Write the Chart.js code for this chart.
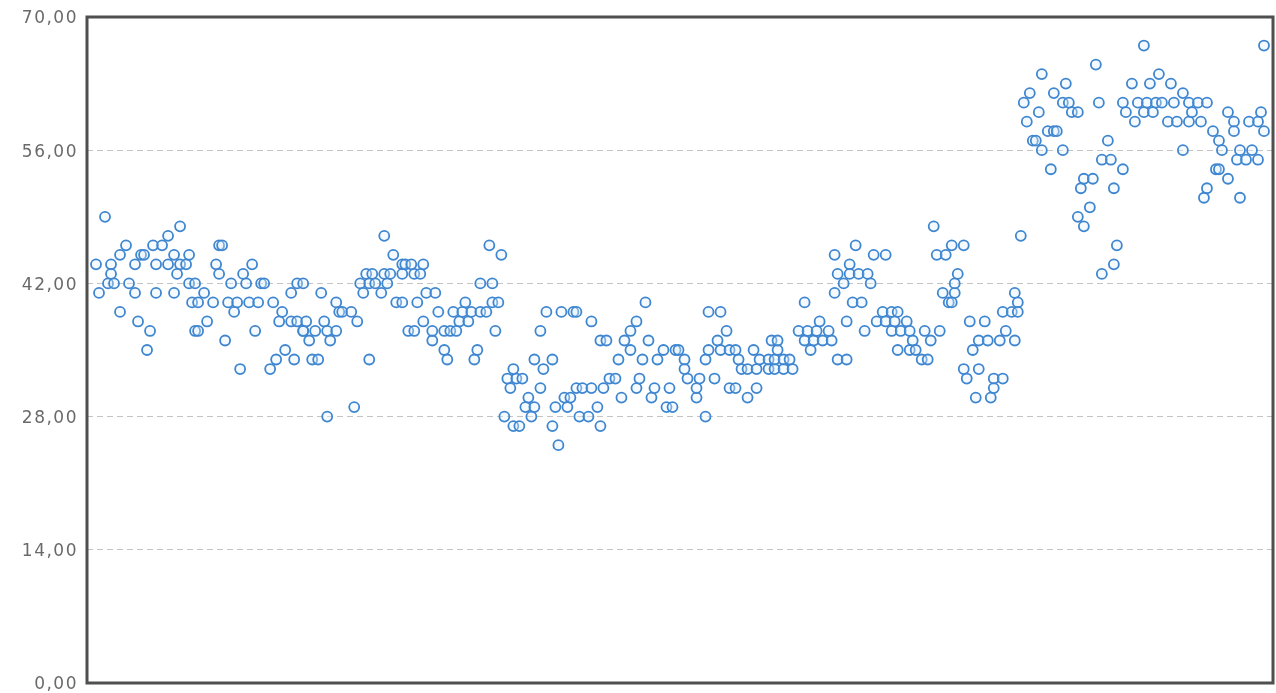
<!DOCTYPE html>
<html>
<head>
<meta charset="utf-8">
<script src="https://cdn.jsdelivr.net/npm/chart.js@4/dist/chart.umd.min.js"></script>
<style>
  html, body { margin: 0; padding: 0; background: #ffffff; overflow: hidden; }
  #wrap { width: 1276px; height: 693px; position: relative; }
  canvas { display: block; }
</style>
</head>
<body>
<div id="wrap"><canvas id="chart" width="1276" height="693"></canvas></div>
<script>
// ---- data ----
const sampleIndex = [
  3,4,6,7,8,8,9,11,11,13,14,16,16,17,18,19,20,21,22,23,23,25,27,27,29,29,30,31,31,33,34,34,35,36,
  36,37,37,39,40,42,43,44,44,45,46,47,48,49,50,51,52,53,54,55,56,57,58,59,61,62,63,64,65,66,68,68,69,70,70,72,
  72,72,73,74,75,76,77,78,79,80,80,81,83,83,84,85,88,89,90,91,92,93,94,94,95,96,98,99,99,100,101,102,103,105,105,105,106,107,
  108,109,109,110,111,112,112,113,115,115,116,117,119,119,120,121,122,123,124,125,126,127,128,129,130,131,131,133,134,135,135,136,137,138,139,140,141,142,142,143,
  144,145,146,147,148,149,149,151,151,152,153,155,155,156,157,158,159,160,161,162,163,163,164,165,167,168,168,170,171,171,172,173,174,176,177,178,179,
  181,181,183,183,184,185,186,187,188,189,190,192,193,194,195,196,197,199,199,200,203,203,204,206,206,207,207,209,210,211,211,213,214,214,
  216,216,217,218,220,220,222,223,223,224,227,227,228,229,229,230,230,232,232,234,235,237,239,239,240,241,242,243,244,245,247,248,249,249,250,250,
  252,253,253,254,254,255,256,257,258,259,260,261,262,263,265,266,266,268,268,269,270,270,271,273,274,274,275,276,278,279,280,281,282,283,284,285,286,287,
  288,288,289,289,290,292,292,293,294,295,296,297,297,299,300,301,302,302,304,305,305,306,308,309,309,310,310,
  311,312,313,314,315,316,317,318,318,320,321,322,322,323,325,325,326,327,328,330,330,331,332,332,334,335,336,337,338,338,340,341,342,342,343,345,345,346,
  348,349,350,352,352,353,354,355,356,357,358,360,361,362,363,365,365,367,367,368,370,371,372,373,373,375,376,377,377,378,380,380,382,382,383,384,384,386,387,388,390,390,391,392,392
];
const measuredValue = [
  44,41,49,42,44,43,42,39,45,46,42,44,41,38,45,45,35,37,46,44,41,46,47,44,45,41,43,44,48,44,45,42,40,37,
  42,40,37,41,38,40,44,46,43,46,36,40,42,39,40,33,43,42,40,44,37,40,42,42,33,40,34,38,39,35,38,41,34,42,38,37,
  42,37,38,36,34,37,34,41,38,37,28,36,40,37,39,39,39,29,38,42,41,43,42,34,43,42,41,43,47,42,43,45,40,44,43,40,44,37,
  44,43,37,40,43,38,44,41,36,37,41,39,37,35,34,37,39,37,38,39,40,38,39,34,35,39,42,39,46,40,42,37,40,45,28,32,31,33,27,32,
  27,32,29,30,28,34,29,31,37,33,39,27,34,29,25,39,30,29,30,39,31,39,28,31,28,31,38,29,27,36,31,36,32,32,34,30,36,
  35,37,38,31,32,34,40,36,30,31,34,35,29,31,29,35,35,34,33,32,30,31,32,28,34,39,35,32,36,39,35,37,35,31,
  35,31,34,33,33,30,35,31,33,34,34,33,36,34,33,35,36,34,33,34,33,37,36,40,37,35,36,37,38,36,37,36,45,41,43,34,
  42,34,38,44,43,40,46,43,40,37,43,42,45,38,39,45,38,37,39,38,35,39,37,38,35,37,36,35,34,37,34,36,48,45,37,41,45,40,
  40,46,41,42,43,46,33,32,38,35,30,33,36,38,36,30,32,31,36,32,39,37,39,36,41,40,39,
  47,61,59,62,57,57,60,64,56,58,54,58,62,58,56,61,63,61,60,49,60,52,48,53,50,53,65,61,43,55,57,55,44,52,46,54,61,60,
  63,59,61,67,60,61,63,60,61,64,61,59,63,61,59,62,56,61,59,60,61,59,51,61,52,58,54,54,57,56,53,60,59,58,55,56,51,55,59,56,55,59,60,58,67
];
const yTickValues = [0, 14, 28, 42, 56, 70];
const indexRange = [0, 395];

// ---- build points from the arrays ----
const points = sampleIndex.map((x, i) => ({ x: x, y: measuredValue[i] }));

const framePlugin = {
  id: 'frame',
  beforeDraw(chart) {
    chart.ctx.letterSpacing = '1.5px';
  },
  beforeDatasetsDraw(chart) {
    const a = chart.chartArea, ctx = chart.ctx;
    ctx.save();
    ctx.strokeStyle = '#4f4f4f';
    ctx.lineWidth = 3;
    ctx.strokeRect(a.left, a.top, a.right - a.left, a.bottom - a.top);
    ctx.restore();
  }
};

new Chart(document.getElementById('chart'), {
  type: 'scatter',
  data: {
    datasets: [{
      data: points,
      pointRadius: 5,
      pointHoverRadius: 5,
      pointBorderWidth: 1.8,
      borderColor: '#3f86d0',
      backgroundColor: 'rgba(225,240,252,0.35)'
    }]
  },
  options: {
    responsive: false,
    animation: false,
    layout: { autoPadding: false, padding: { top: 17, right: 3, bottom: 10, left: 0 } },
    plugins: { legend: { display: false }, tooltip: { enabled: false } },
    scales: {
      x: {
        type: 'linear',
        display: false,
        min: indexRange[0],
        max: indexRange[1]
      },
      y: {
        min: yTickValues[0],
        max: yTickValues[yTickValues.length - 1],
        afterBuildTicks(scale) { scale.ticks = yTickValues.map(v => ({ value: v })); },
        afterFit(scale) {
          scale.width = 87;
          scale.paddingTop = 0; scale.paddingBottom = 0;
          scale.paddingLeft = 0; scale.paddingRight = 0;
        },
        border: { display: false, dash: [6, 4] },
        grid: {
          drawTicks: false,
          color: (c) => (c.tick && (c.tick.value === 0 || c.tick.value === 70)) ? 'rgba(0,0,0,0)' : '#c4c4c4',
          lineWidth: 1
        },
        ticks: {
          padding: 9,
          labelOffset: 2,
          color: '#6a6a6a',
          font: { family: 'DejaVu Sans', size: 17 },
          callback: (v) => Number(v).toFixed(2).replace('.', ',')
        }
      }
    }
  },
  plugins: [framePlugin]
});
</script>
</body>
</html>
